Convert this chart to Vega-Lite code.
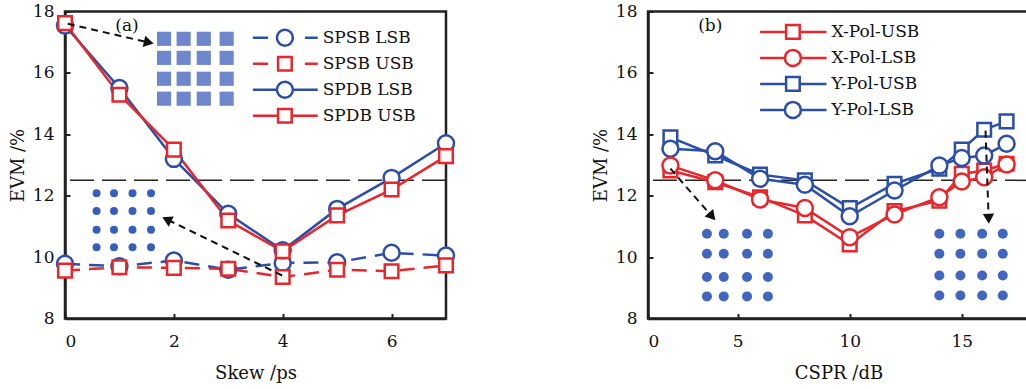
{
  "$schema": "https://vega.github.io/schema/vega-lite/v6.json",
  "background": "white",
  "padding": {"left": 8, "top": 0.5, "right": 0, "bottom": 0},
  "spacing": 202,
  "bounds": "flush",
  "config": {
    "view": {"stroke": "#222222", "strokeWidth": 2.5},
    "axis": {
      "grid": false,
      "domainColor": "#222222",
      "domainWidth": 2.5,
      "tickColor": "#222222",
      "tickWidth": 2,
      "tickSize": -5,
      "labelFont": "DejaVu Serif",
      "labelFontSize": 17,
      "labelColor": "#111111",
      "titleFont": "DejaVu Serif",
      "titleFontSize": 18,
      "titleFontWeight": "normal",
      "titleColor": "#111111",
      "format": "d"
    },
    "axisY": {"labelPadding": 16, "titleX": -46.5, "titleBaseline": "middle"},
    "axisX": {"labelPadding": 20, "titleY": 55, "titleBaseline": "middle"},
    "legend": {
      "labelFont": "DejaVu Serif",
      "labelFontSize": 17,
      "labelColor": "#111111",
      "symbolSize": 256,
      "symbolStrokeWidth": 2.5,
      "padding": 0,
      "rowPadding": 0
    }
  },
  "datasets": {
    "a": [
      {"skew": 0, "evm": 9.78, "series": "SPSB LSB"},
      {"skew": 1, "evm": 9.70, "series": "SPSB LSB"},
      {"skew": 2, "evm": 9.89, "series": "SPSB LSB"},
      {"skew": 3, "evm": 9.59, "series": "SPSB LSB"},
      {"skew": 4, "evm": 9.81, "series": "SPSB LSB"},
      {"skew": 5, "evm": 9.83, "series": "SPSB LSB"},
      {"skew": 6, "evm": 10.14, "series": "SPSB LSB"},
      {"skew": 7, "evm": 10.05, "series": "SPSB LSB"},
      {"skew": 0, "evm": 9.56, "series": "SPSB USB"},
      {"skew": 1, "evm": 9.67, "series": "SPSB USB"},
      {"skew": 2, "evm": 9.65, "series": "SPSB USB"},
      {"skew": 3, "evm": 9.62, "series": "SPSB USB"},
      {"skew": 4, "evm": 9.35, "series": "SPSB USB"},
      {"skew": 5, "evm": 9.59, "series": "SPSB USB"},
      {"skew": 6, "evm": 9.54, "series": "SPSB USB"},
      {"skew": 7, "evm": 9.73, "series": "SPSB USB"},
      {"skew": 0, "evm": 17.54, "series": "SPDB LSB"},
      {"skew": 1, "evm": 15.51, "series": "SPDB LSB"},
      {"skew": 2, "evm": 13.2, "series": "SPDB LSB"},
      {"skew": 3, "evm": 11.41, "series": "SPDB LSB"},
      {"skew": 4, "evm": 10.22, "series": "SPDB LSB"},
      {"skew": 5, "evm": 11.57, "series": "SPDB LSB"},
      {"skew": 6, "evm": 12.58, "series": "SPDB LSB"},
      {"skew": 7, "evm": 13.71, "series": "SPDB LSB"},
      {"skew": 0, "evm": 17.62, "series": "SPDB USB"},
      {"skew": 1, "evm": 15.29, "series": "SPDB USB"},
      {"skew": 2, "evm": 13.5, "series": "SPDB USB"},
      {"skew": 3, "evm": 11.19, "series": "SPDB USB"},
      {"skew": 4, "evm": 10.19, "series": "SPDB USB"},
      {"skew": 5, "evm": 11.36, "series": "SPDB USB"},
      {"skew": 6, "evm": 12.2, "series": "SPDB USB"},
      {"skew": 7, "evm": 13.29, "series": "SPDB USB"}
    ],
    "b": [
      {"cspr": 2, "evm": 13.9, "series": "Y-Pol-USB"},
      {"cspr": 4, "evm": 13.31, "series": "Y-Pol-USB"},
      {"cspr": 6, "evm": 12.69, "series": "Y-Pol-USB"},
      {"cspr": 8, "evm": 12.5, "series": "Y-Pol-USB"},
      {"cspr": 10, "evm": 11.6, "series": "Y-Pol-USB"},
      {"cspr": 12, "evm": 12.39, "series": "Y-Pol-USB"},
      {"cspr": 14, "evm": 12.88, "series": "Y-Pol-USB"},
      {"cspr": 15, "evm": 13.5, "series": "Y-Pol-USB"},
      {"cspr": 16, "evm": 14.15, "series": "Y-Pol-USB"},
      {"cspr": 17, "evm": 14.42, "series": "Y-Pol-USB"},
      {"cspr": 2, "evm": 13.53, "series": "Y-Pol-LSB"},
      {"cspr": 4, "evm": 13.45, "series": "Y-Pol-LSB"},
      {"cspr": 6, "evm": 12.55, "series": "Y-Pol-LSB"},
      {"cspr": 8, "evm": 12.36, "series": "Y-Pol-LSB"},
      {"cspr": 10, "evm": 11.33, "series": "Y-Pol-LSB"},
      {"cspr": 12, "evm": 12.17, "series": "Y-Pol-LSB"},
      {"cspr": 14, "evm": 12.98, "series": "Y-Pol-LSB"},
      {"cspr": 15, "evm": 13.23, "series": "Y-Pol-LSB"},
      {"cspr": 16, "evm": 13.31, "series": "Y-Pol-LSB"},
      {"cspr": 17, "evm": 13.69, "series": "Y-Pol-LSB"},
      {"cspr": 2, "evm": 12.82, "series": "X-Pol-USB"},
      {"cspr": 4, "evm": 12.44, "series": "X-Pol-USB"},
      {"cspr": 6, "evm": 11.95, "series": "X-Pol-USB"},
      {"cspr": 8, "evm": 11.36, "series": "X-Pol-USB"},
      {"cspr": 10, "evm": 10.41, "series": "X-Pol-USB"},
      {"cspr": 12, "evm": 11.5, "series": "X-Pol-USB"},
      {"cspr": 14, "evm": 11.84, "series": "X-Pol-USB"},
      {"cspr": 15, "evm": 12.71, "series": "X-Pol-USB"},
      {"cspr": 16, "evm": 12.82, "series": "X-Pol-USB"},
      {"cspr": 17, "evm": 13.04, "series": "X-Pol-USB"},
      {"cspr": 2, "evm": 12.98, "series": "X-Pol-LSB"},
      {"cspr": 4, "evm": 12.5, "series": "X-Pol-LSB"},
      {"cspr": 6, "evm": 11.88, "series": "X-Pol-LSB"},
      {"cspr": 8, "evm": 11.6, "series": "X-Pol-LSB"},
      {"cspr": 10, "evm": 10.65, "series": "X-Pol-LSB"},
      {"cspr": 12, "evm": 11.39, "series": "X-Pol-LSB"},
      {"cspr": 14, "evm": 11.95, "series": "X-Pol-LSB"},
      {"cspr": 15, "evm": 12.46, "series": "X-Pol-LSB"},
      {"cspr": 16, "evm": 12.6, "series": "X-Pol-LSB"},
      {"cspr": 17, "evm": 13.02, "series": "X-Pol-LSB"}
    ]
  },
  "hconcat": [
    {
      "width": 381,
      "height": 307,
      "layer": [
        {
          "data": {"values": [{"v": 12.5}]},
          "mark": {"type": "rule", "color": "#222222", "strokeWidth": 1.5, "strokeDash": [24, 8]},
          "encoding": {
            "y": {"field": "v", "type": "quantitative", "title": "EVM /%", "scale": {"domain": [8, 18], "nice": false}, "axis": {"values": [8, 10, 12, 14, 16, 18]}}
          }
        },
        {
          "data": {"name": "a"},
          "transform": [{"filter": "false"}],
          "mark": {"type": "point", "filled": false, "strokeWidth": 2.5, "opacity": 1},
          "encoding": {
            "x": {"field": "skew", "type": "quantitative", "title": "Skew /ps", "scale": {"domain": [0, 7], "nice": false}, "axis": {"values": [0, 2, 4, 6]}},
            "y": {"field": "evm", "type": "quantitative", "title": "EVM /%", "scale": {"domain": [8, 18], "nice": false}},
            "color": {
              "field": "series",
              "scale": {"domain": ["SPSB LSB", "SPSB USB", "SPDB LSB", "SPDB USB"], "range": ["#2b4ea8", "#e8262b", "#2b4ea8", "#e8262b"]},
              "legend": {"title": null, "orient": "none", "legendX": 210.4, "legendY": 16.7, "labelOffset": 28.3}
            },
            "shape": {
              "field": "series",
              "scale": {
                "domain": ["SPSB LSB", "SPSB USB", "SPDB LSB", "SPDB USB"],
                "range": [
                  "M-4,0L-2.1,0M2.5,0L4.1,0M1,0A1,1,0,1,1,-1,0A1,1,0,1,1,1,0Z",
                  "M-4,0L-2.1,0M2.5,0L4.1,0M-0.85,-0.85L0.85,-0.85L0.85,0.85L-0.85,0.85Z",
                  "M-4,0L-1,0M1,0L4.1,0M1,0A1,1,0,1,1,-1,0A1,1,0,1,1,1,0Z",
                  "M-4,0L-0.85,0M0.85,0L4.1,0M-0.85,-0.85L0.85,-0.85L0.85,0.85L-0.85,0.85Z"
                ]
              },
              "legend": null
            }
          }
        },
        {
          "data": {"name": "a"},
          "transform": [{"filter": "indexof(datum.series, 'SPSB') === 0"}],
          "mark": {"type": "line", "strokeWidth": 2.5, "strokeDash": [15, 9]},
          "encoding": {
            "x": {"field": "skew", "type": "quantitative", "title": "Skew /ps"},
            "y": {"field": "evm", "type": "quantitative", "title": "EVM /%"},
            "color": {"field": "series"}
          }
        },
        {
          "data": {"name": "a"},
          "transform": [{"filter": "indexof(datum.series, 'SPDB') === 0"}],
          "mark": {"type": "line", "strokeWidth": 2.5},
          "encoding": {
            "x": {"field": "skew", "type": "quantitative", "title": "Skew /ps"},
            "y": {"field": "evm", "type": "quantitative", "title": "EVM /%"},
            "color": {"field": "series"}
          }
        },
        {
          "data": {"name": "a"},
          "mark": {"type": "point", "shape": "circle", "filled": true, "fill": "white", "size": 256, "strokeWidth": 2.5, "opacity": 1},
          "encoding": {
            "x": {"field": "skew", "type": "quantitative", "title": "Skew /ps"},
            "y": {"field": "evm", "type": "quantitative", "title": "EVM /%"},
            "stroke": {"field": "series", "scale": {"domain": ["SPSB LSB", "SPSB USB", "SPDB LSB", "SPDB USB"], "range": ["#2b4ea8", "#e8262b", "#2b4ea8", "#e8262b"]}, "legend": null},
            "opacity": {"condition": {"test": "indexof(datum.series, 'LSB') >= 0", "value": 1}, "value": 0}
          }
        },
        {
          "data": {"name": "a"},
          "transform": [{"filter": "indexof(datum.series, 'USB') >= 0"}],
          "mark": {"type": "point", "shape": "M-0.85,-0.85L0.85,-0.85L0.85,0.85L-0.85,0.85Z", "filled": true, "fill": "white", "size": 256, "strokeWidth": 2.5, "opacity": 1},
          "encoding": {
            "x": {"field": "skew", "type": "quantitative", "title": "Skew /ps"},
            "y": {"field": "evm", "type": "quantitative", "title": "EVM /%"},
            "stroke": {"field": "series", "legend": null}
          }
        },
        {
          "data": {"values": [
            {"skew": 1.82, "evm": 17.11}, {"skew": 2.18, "evm": 17.11}, {"skew": 2.55, "evm": 17.11}, {"skew": 2.97, "evm": 17.11},
            {"skew": 1.82, "evm": 16.49}, {"skew": 2.18, "evm": 16.49}, {"skew": 2.55, "evm": 16.49}, {"skew": 2.97, "evm": 16.49},
            {"skew": 1.82, "evm": 15.81}, {"skew": 2.18, "evm": 15.81}, {"skew": 2.55, "evm": 15.81}, {"skew": 2.97, "evm": 15.81},
            {"skew": 1.82, "evm": 15.16}, {"skew": 2.18, "evm": 15.16}, {"skew": 2.55, "evm": 15.16}, {"skew": 2.97, "evm": 15.16}
          ]},
          "mark": {"type": "point", "shape": "square", "filled": true, "size": 200, "color": "#3458b8", "opacity": 0.72},
          "encoding": {
            "x": {"field": "skew", "type": "quantitative", "title": "Skew /ps"},
            "y": {"field": "evm", "type": "quantitative", "title": "EVM /%"}
          }
        },
        {
          "data": {"values": [
            {"skew": 0.58, "evm": 12.08}, {"skew": 0.9, "evm": 12.08}, {"skew": 1.24, "evm": 12.08}, {"skew": 1.58, "evm": 12.08},
            {"skew": 0.58, "evm": 11.5}, {"skew": 0.9, "evm": 11.5}, {"skew": 1.24, "evm": 11.5}, {"skew": 1.58, "evm": 11.5},
            {"skew": 0.58, "evm": 10.89}, {"skew": 0.9, "evm": 10.89}, {"skew": 1.24, "evm": 10.89}, {"skew": 1.58, "evm": 10.89},
            {"skew": 0.58, "evm": 10.32}, {"skew": 0.9, "evm": 10.32}, {"skew": 1.24, "evm": 10.32}, {"skew": 1.58, "evm": 10.32}
          ]},
          "mark": {"type": "point", "shape": "circle", "filled": true, "size": 64, "color": "#2c55b8", "opacity": 0.95},
          "encoding": {
            "x": {"field": "skew", "type": "quantitative", "title": "Skew /ps"},
            "y": {"field": "evm", "type": "quantitative", "title": "EVM /%"}
          }
        },
        {
          "data": {"values": [
            {"skew": 0.05, "evm": 17.6, "skew2": 1.54, "evm2": 16.99},
            {"skew": 3.99, "evm": 9.4, "skew2": 1.87, "evm2": 11.23}
          ]},
          "mark": {"type": "rule", "color": "#111111", "strokeWidth": 2, "strokeDash": [7, 5]},
          "encoding": {
            "x": {"field": "skew", "type": "quantitative", "title": "Skew /ps"},
            "y": {"field": "evm", "type": "quantitative", "title": "EVM /%"},
            "x2": {"field": "skew2"},
            "y2": {"field": "evm2"}
          }
        },
        {
          "data": {"values": [{"skew": 1.54, "evm": 16.99}]},
          "mark": {"type": "point", "shape": "triangle-right", "filled": true, "size": 130, "color": "#111111", "opacity": 1, "angle": 13},
          "encoding": {
            "x": {"field": "skew", "type": "quantitative", "title": "Skew /ps"},
            "y": {"field": "evm", "type": "quantitative", "title": "EVM /%"}
          }
        },
        {
          "data": {"values": [{"skew": 1.87, "evm": 11.23}]},
          "mark": {"type": "point", "shape": "triangle-right", "filled": true, "size": 130, "color": "#111111", "opacity": 1, "angle": 206},
          "encoding": {
            "x": {"field": "skew", "type": "quantitative", "title": "Skew /ps"},
            "y": {"field": "evm", "type": "quantitative", "title": "EVM /%"}
          }
        },
        {
          "data": {"values": [{"skew": 1.14, "evm": 17.53, "label": "(a)"}]},
          "mark": {"type": "text", "font": "DejaVu Serif", "fontSize": 17, "color": "#111111"},
          "encoding": {
            "x": {"field": "skew", "type": "quantitative", "title": "Skew /ps"},
            "y": {"field": "evm", "type": "quantitative", "title": "EVM /%"},
            "text": {"field": "label"}
          }
        }
      ]
    },
    {
      "width": 381,
      "height": 307,
      "layer": [
        {
          "data": {"values": [{"v": 12.5}]},
          "mark": {"type": "rule", "color": "#222222", "strokeWidth": 1.5, "strokeDash": [24, 8]},
          "encoding": {
            "y": {"field": "v", "type": "quantitative", "title": "EVM /%", "scale": {"domain": [8, 18], "nice": false}, "axis": {"values": [8, 10, 12, 14, 16, 18]}}
          }
        },
        {
          "data": {"name": "b"},
          "transform": [{"filter": "false"}],
          "mark": {"type": "point", "filled": false, "strokeWidth": 2.5, "opacity": 1},
          "encoding": {
            "x": {"field": "cspr", "type": "quantitative", "title": "CSPR /dB", "scale": {"domain": [1, 18], "nice": false}, "axis": {"values": [1, 5, 10, 15], "labelExpr": "datum.value === 1 ? '0' : datum.label"}},
            "y": {"field": "evm", "type": "quantitative", "title": "EVM /%", "scale": {"domain": [8, 18], "nice": false}},
            "color": {
              "field": "series",
              "scale": {"domain": ["X-Pol-USB", "X-Pol-LSB", "Y-Pol-USB", "Y-Pol-LSB"], "range": ["#e8262b", "#e8262b", "#2b4ea8", "#2b4ea8"]},
              "legend": {"title": null, "orient": "none", "legendX": 135.4, "legendY": 10.9, "labelOffset": 29}
            },
            "shape": {
              "field": "series",
              "scale": {
                "domain": ["X-Pol-USB", "X-Pol-LSB", "Y-Pol-USB", "Y-Pol-LSB"],
                "range": [
                  "M-4.1,0L-0.85,0M0.85,0L4.2,0M-0.85,-0.85L0.85,-0.85L0.85,0.85L-0.85,0.85Z",
                  "M-4.1,0L-1,0M1,0L4.2,0M1,0A1,1,0,1,1,-1,0A1,1,0,1,1,1,0Z",
                  "M-4.1,0L-0.85,0M0.85,0L4.2,0M-0.85,-0.85L0.85,-0.85L0.85,0.85L-0.85,0.85Z",
                  "M-4.1,0L-1,0M1,0L4.2,0M1,0A1,1,0,1,1,-1,0A1,1,0,1,1,1,0Z"
                ]
              },
              "legend": null
            }
          }
        },
        {
          "data": {"name": "b"},
          "mark": {"type": "line", "strokeWidth": 2.5},
          "encoding": {
            "x": {"field": "cspr", "type": "quantitative", "title": "CSPR /dB"},
            "y": {"field": "evm", "type": "quantitative", "title": "EVM /%"},
            "color": {"field": "series"}
          }
        },
        {
          "data": {"name": "b"},
          "transform": [{"filter": "indexof(datum.series, 'USB') >= 0"}],
          "mark": {"type": "point", "shape": "M-0.85,-0.85L0.85,-0.85L0.85,0.85L-0.85,0.85Z", "filled": true, "fill": "white", "size": 256, "strokeWidth": 2.5, "opacity": 1},
          "encoding": {
            "x": {"field": "cspr", "type": "quantitative", "title": "CSPR /dB"},
            "y": {"field": "evm", "type": "quantitative", "title": "EVM /%"},
            "stroke": {"field": "series", "scale": {"domain": ["X-Pol-USB", "X-Pol-LSB", "Y-Pol-USB", "Y-Pol-LSB"], "range": ["#e8262b", "#e8262b", "#2b4ea8", "#2b4ea8"]}, "legend": null}
          }
        },
        {
          "data": {"name": "b"},
          "transform": [{"filter": "indexof(datum.series, 'LSB') >= 0"}],
          "mark": {"type": "point", "shape": "circle", "filled": true, "fill": "white", "size": 256, "strokeWidth": 2.5, "opacity": 1},
          "encoding": {
            "x": {"field": "cspr", "type": "quantitative", "title": "CSPR /dB"},
            "y": {"field": "evm", "type": "quantitative", "title": "EVM /%"},
            "stroke": {"field": "series", "legend": null}
          }
        },
        {
          "data": {"values": [
            {"cspr": 3.63, "evm": 10.76}, {"cspr": 4.38, "evm": 10.76}, {"cspr": 5.42, "evm": 10.76}, {"cspr": 6.35, "evm": 10.76},
            {"cspr": 3.63, "evm": 10.11}, {"cspr": 4.38, "evm": 10.11}, {"cspr": 5.42, "evm": 10.11}, {"cspr": 6.35, "evm": 10.11},
            {"cspr": 3.63, "evm": 9.35}, {"cspr": 4.38, "evm": 9.35}, {"cspr": 5.42, "evm": 9.35}, {"cspr": 6.35, "evm": 9.35},
            {"cspr": 3.63, "evm": 8.72}, {"cspr": 4.38, "evm": 8.72}, {"cspr": 5.42, "evm": 8.72}, {"cspr": 6.35, "evm": 8.72},
            {"cspr": 14.0, "evm": 10.76}, {"cspr": 14.94, "evm": 10.76}, {"cspr": 15.91, "evm": 10.76}, {"cspr": 16.83, "evm": 10.76},
            {"cspr": 14.0, "evm": 10.11}, {"cspr": 14.94, "evm": 10.11}, {"cspr": 15.91, "evm": 10.11}, {"cspr": 16.83, "evm": 10.11},
            {"cspr": 14.0, "evm": 9.4}, {"cspr": 14.94, "evm": 9.4}, {"cspr": 15.91, "evm": 9.4}, {"cspr": 16.83, "evm": 9.4},
            {"cspr": 14.0, "evm": 8.75}, {"cspr": 14.94, "evm": 8.75}, {"cspr": 15.91, "evm": 8.75}, {"cspr": 16.83, "evm": 8.75}
          ]},
          "mark": {"type": "point", "shape": "circle", "filled": true, "size": 100, "color": "#2c55b8", "opacity": 0.9},
          "encoding": {
            "x": {"field": "cspr", "type": "quantitative", "title": "CSPR /dB"},
            "y": {"field": "evm", "type": "quantitative", "title": "EVM /%"}
          }
        },
        {
          "data": {"values": [
            {"cspr": 2.0, "evm": 12.88, "cspr2": 3.86, "evm2": 11.32},
            {"cspr": 16.06, "evm": 14.12, "cspr2": 16.2, "evm2": 11.25}
          ]},
          "mark": {"type": "rule", "color": "#111111", "strokeWidth": 2, "strokeDash": [7, 5]},
          "encoding": {
            "x": {"field": "cspr", "type": "quantitative", "title": "CSPR /dB"},
            "y": {"field": "evm", "type": "quantitative", "title": "EVM /%"},
            "x2": {"field": "cspr2"},
            "y2": {"field": "evm2"}
          }
        },
        {
          "data": {"values": [{"cspr": 3.86, "evm": 11.32}]},
          "mark": {"type": "point", "shape": "triangle-right", "filled": true, "size": 130, "color": "#111111", "opacity": 1, "angle": 49},
          "encoding": {
            "x": {"field": "cspr", "type": "quantitative", "title": "CSPR /dB"},
            "y": {"field": "evm", "type": "quantitative", "title": "EVM /%"}
          }
        },
        {
          "data": {"values": [{"cspr": 16.2, "evm": 11.25}]},
          "mark": {"type": "point", "shape": "triangle-right", "filled": true, "size": 130, "color": "#111111", "opacity": 1, "angle": 88},
          "encoding": {
            "x": {"field": "cspr", "type": "quantitative", "title": "CSPR /dB"},
            "y": {"field": "evm", "type": "quantitative", "title": "EVM /%"}
          }
        },
        {
          "data": {"values": [{"cspr": 3.78, "evm": 17.53, "label": "(b)"}]},
          "mark": {"type": "text", "font": "DejaVu Serif", "fontSize": 17, "color": "#111111"},
          "encoding": {
            "x": {"field": "cspr", "type": "quantitative", "title": "CSPR /dB"},
            "y": {"field": "evm", "type": "quantitative", "title": "EVM /%"},
            "text": {"field": "label"}
          }
        }
      ]
    }
  ],
  "resolve": {
    "scale": {"x": "independent", "y": "independent", "color": "independent", "shape": "independent", "stroke": "independent"},
    "legend": {"color": "independent"}
  }
}
